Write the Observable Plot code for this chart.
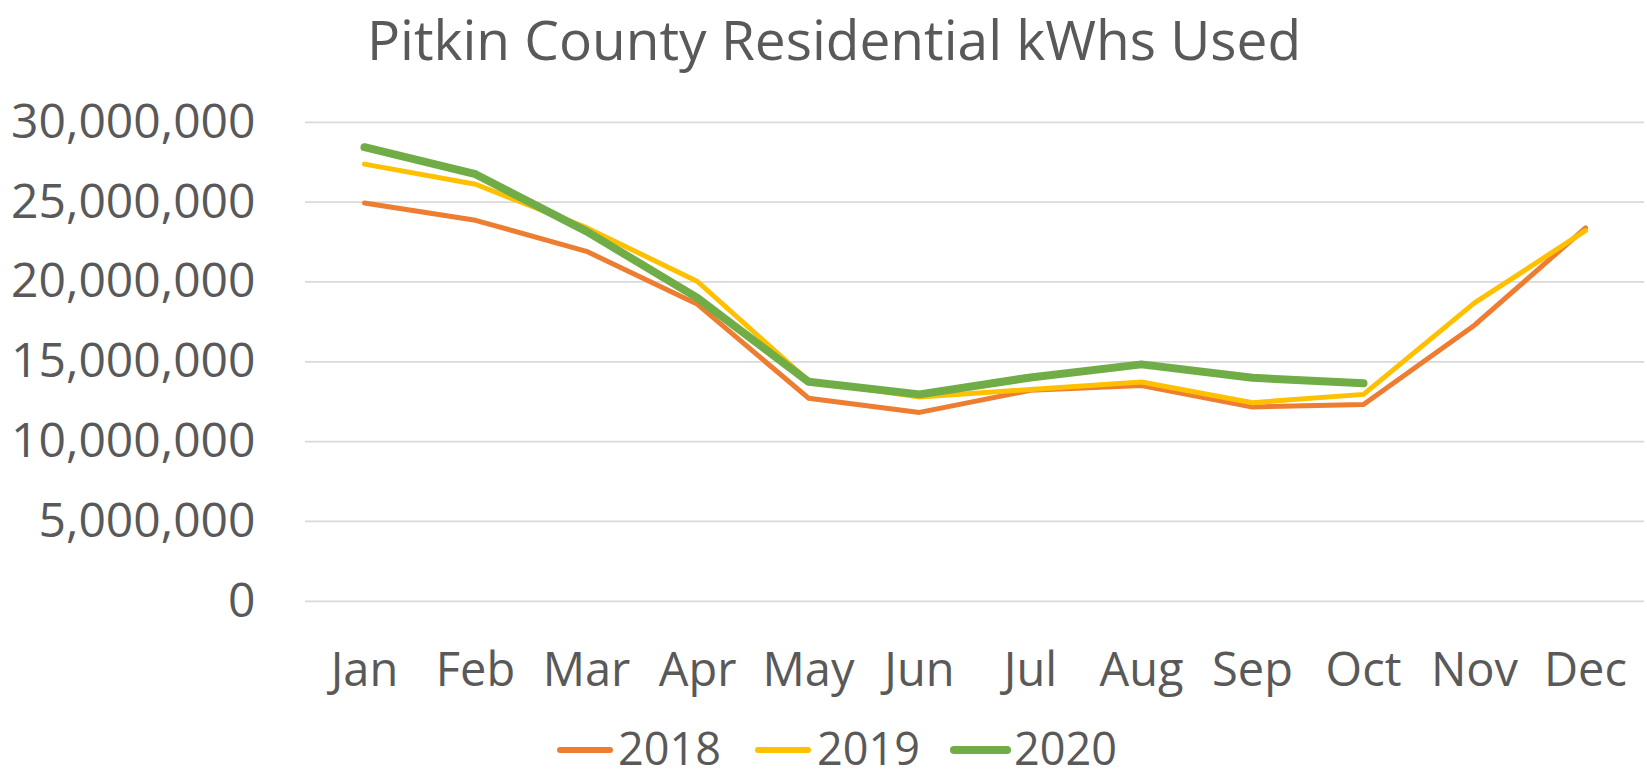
<!DOCTYPE html>
<html>
<head>
<meta charset="utf-8">
<script src="https://cdn.jsdelivr.net/npm/d3@7"></script>
<script src="https://cdn.jsdelivr.net/npm/@observablehq/plot@0.6"></script>
<style>
  html, body { margin: 0; padding: 0; background: #fff; }
  #wrap { position: relative; width: 1647px; height: 779px; overflow: hidden; font-family: "Open Sans", sans-serif; color: #595959; }
  #chart { position: absolute; top: 0; left: 0; }
  #overlay { position: absolute; top: 0; left: 0; }
</style>
</head>
<body>
<div id="wrap">
  <div id="chart"></div>
  <svg id="overlay" width="1647" height="779" font-family="Open Sans" fill="#595959"></svg>
</div>
<script>
const months = ["Jan","Feb","Mar","Apr","May","Jun","Jul","Aug","Sep","Oct","Nov","Dec"];
const years = ["2018","2019","2020"];
const kwh2018 = [24940000, 23860000, 21920000, 18600000, 12720000, 11830000, 13220000, 13520000, 12170000, 12330000, 17290000, 23380000];
const kwh2019 = [27380000, 26120000, 23400000, 20030000, 13800000, 12800000, 13270000, 13730000, 12440000, 12960000, 18690000, 23210000];
const kwh2020 = [28440000, 26750000, 23170000, 19000000, 13750000, 12960000, 14020000, 14840000, 14000000, 13650000];
const yTicks = [0, 5000000, 10000000, 15000000, 20000000, 25000000, 30000000];
const titleText = "Pitkin County Residential kWhs Used";
const colors = ["#ED7D31", "#FFC000", "#70AD47"];
const widths = [5, 5, 8];

const series = [kwh2018, kwh2019, kwh2020];
const rows = series.map((vals, s) => vals.map((v, i) => ({month: months[i], kwh: v, year: years[s]})));

const chart = Plot.plot({
  width: 1647,
  height: 700,
  marginTop: 121.8,
  marginBottom: 99.2,
  marginLeft: 305,
  marginRight: 3,
  style: {fontFamily: "Open Sans", fontSize: "46px", color: "#595959", background: "transparent"},
  x: {type: "point", domain: months, padding: 0.5},
  y: {domain: [0, 30000000]},
  marks: [
    Plot.gridY(yTicks, {stroke: "#D9D9D9", strokeOpacity: 1, strokeWidth: 1.7}),
    Plot.axisY(yTicks, {tickSize: 0, tickPadding: 50, tickFormat: d3.format(","), label: null, fontSize: 48}),
    Plot.axisX({tickSize: 0, tickPadding: 51, label: null, fontSize: 47}),
    ...rows.map((r, s) => Plot.line(r, {x: "month", y: "kwh", stroke: colors[s], strokeWidth: widths[s], strokeLinecap: "round", strokeLinejoin: "round"}))
  ]
});
document.getElementById("chart").appendChild(chart);

// title + legend as SVG text
const ov = d3.select("#overlay");
ov.append("text")
  .attr("x", 834).attr("y", 60)
  .attr("text-anchor", "middle")
  .attr("font-size", 55)
  .text(titleText);

const swLeft = [557, 755, 951];
const swWidth = [56, 56, 59];
const txLeft = [618, 817, 1014];
years.forEach((y, i) => {
  ov.append("line")
    .attr("x1", swLeft[i] + 3).attr("x2", swLeft[i] + swWidth[i] - 3)
    .attr("y1", 750).attr("y2", 750)
    .attr("stroke", colors[i]).attr("stroke-width", i === 2 ? 8 : 6)
    .attr("stroke-linecap", "round");
  ov.append("text")
    .attr("x", txLeft[i]).attr("y", 765)
    .attr("font-size", 45)
    .text(y);
});
</script>
</body>
</html>
